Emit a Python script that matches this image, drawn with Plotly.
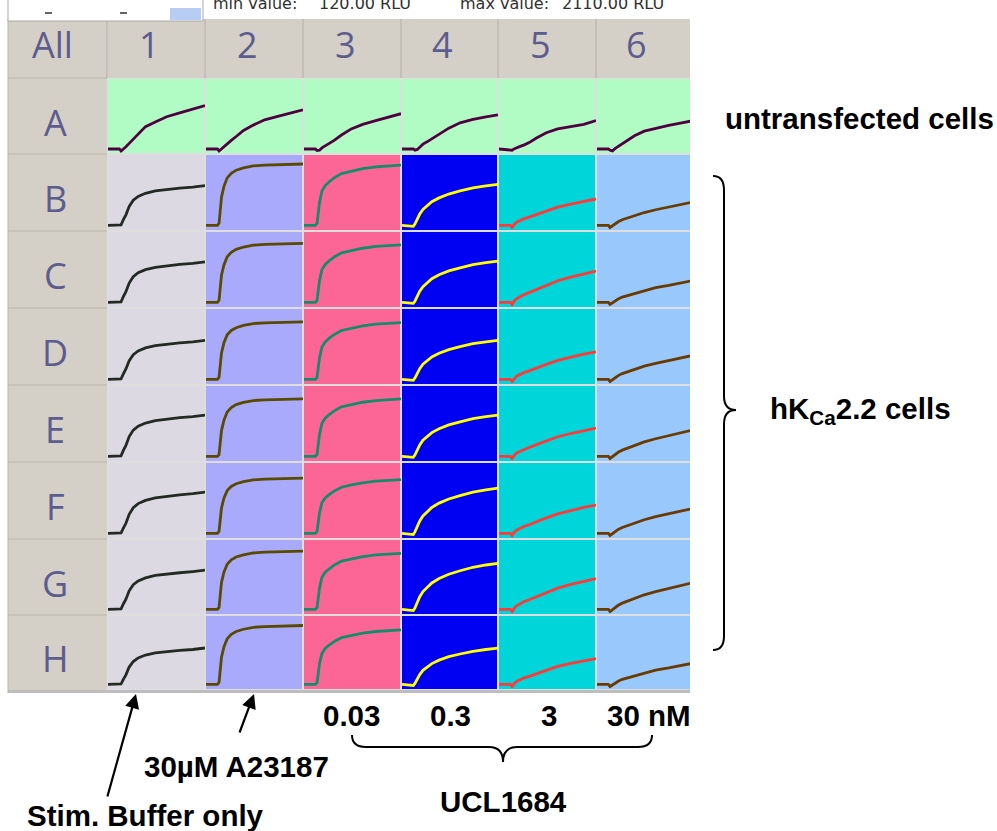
import plotly.graph_objects as go

W, H = 997, 831

# Sample times (s) shared by every well trace
TIME_S = [0, 7, 8, 9.5, 11, 13, 15.5, 18.5, 23, 29, 36, 44, 52, 59.5]

ROW_LABELS = ["A", "B", "C", "D", "E", "F", "G", "H"]
COL_LABELS = ["1", "2", "3", "4", "5", "6"]

# Luminescence (RLU) per well, one list per column 1..6
row_A = [
    [125, 125, 60, 120, 200, 310, 450, 610, 860, 1010, 1185, 1310, 1435, 1550],
    [125, 125, 60, 135, 210, 310, 410, 535, 735, 910, 1085, 1200, 1310, 1410],
    [125, 125, 75, 85, 160, 235, 310, 410, 585, 785, 935, 1060, 1185, 1285],
    [125, 125, 85, 110, 185, 285, 360, 460, 635, 810, 985, 1100, 1185, 1250],
    [125, 75, 85, 135, 175, 210, 260, 335, 485, 660, 785, 860, 935, 1060],
    [125, 125, 85, 60, 135, 210, 285, 410, 560, 710, 810, 900, 985, 1060],
]
row_B = [
    [145, 145, 160, 335, 485, 760, 960, 1085, 1185, 1260, 1310, 1350, 1385, 1435],
    [145, 145, 210, 1060, 1410, 1685, 1835, 1935, 2010, 2075, 2100, 2115, 2125, 2135],
    [145, 145, 210, 885, 1260, 1435, 1560, 1685, 1825, 1910, 1985, 2045, 2075, 2100],
    [145, 110, 185, 360, 510, 660, 785, 910, 1035, 1160, 1260, 1360, 1425, 1475],
    [145, 145, 75, 185, 250, 300, 360, 410, 500, 610, 735, 835, 925, 1000],
    [145, 145, 75, 135, 200, 260, 325, 375, 460, 560, 650, 735, 825, 910],
]
row_C = [
    [145, 145, 160, 340, 490, 770, 975, 1105, 1205, 1280, 1335, 1375, 1410, 1460],
    [145, 145, 210, 1025, 1360, 1625, 1770, 1865, 1940, 2000, 2025, 2040, 2050, 2060],
    [145, 145, 205, 850, 1210, 1375, 1495, 1615, 1750, 1830, 1900, 1960, 1990, 2010],
    [145, 110, 180, 350, 505, 655, 785, 910, 1040, 1165, 1265, 1365, 1430, 1485],
    [145, 145, 75, 195, 270, 330, 400, 460, 565, 700, 845, 965, 1075, 1160],
    [145, 145, 75, 135, 195, 250, 315, 360, 440, 535, 620, 695, 780, 860],
]
row_D = [
    [145, 145, 160, 330, 480, 750, 945, 1065, 1165, 1240, 1285, 1325, 1360, 1410],
    [145, 145, 205, 1000, 1330, 1590, 1730, 1820, 1895, 1955, 1975, 1990, 2000, 2010],
    [145, 145, 205, 840, 1195, 1360, 1480, 1595, 1730, 1810, 1880, 1935, 1965, 1985],
    [145, 110, 185, 350, 490, 635, 755, 870, 990, 1110, 1205, 1300, 1360, 1410],
    [145, 145, 75, 185, 255, 305, 370, 420, 515, 630, 760, 865, 960, 1035],
    [145, 145, 75, 135, 200, 265, 330, 380, 470, 575, 665, 750, 845, 930],
]
row_E = [
    [145, 145, 160, 345, 500, 785, 995, 1125, 1225, 1305, 1355, 1400, 1435, 1485],
    [145, 145, 200, 980, 1320, 1585, 1730, 1825, 1895, 1955, 1980, 1995, 2005, 2010],
    [145, 145, 205, 855, 1215, 1380, 1500, 1620, 1750, 1830, 1900, 1955, 1985, 2010],
    [145, 110, 185, 365, 515, 665, 790, 915, 1040, 1165, 1265, 1365, 1430, 1480],
    [145, 145, 75, 190, 260, 310, 375, 430, 525, 645, 780, 885, 980, 1060],
    [145, 145, 75, 135, 205, 275, 345, 405, 500, 615, 715, 810, 915, 1010],
]
row_F = [
    [145, 145, 155, 320, 470, 760, 975, 1110, 1215, 1295, 1350, 1395, 1435, 1485],
    [145, 145, 205, 970, 1285, 1530, 1665, 1755, 1825, 1880, 1905, 1920, 1925, 1935],
    [145, 145, 205, 805, 1140, 1295, 1405, 1515, 1640, 1720, 1785, 1840, 1865, 1885],
    [145, 105, 190, 380, 545, 710, 850, 985, 1125, 1260, 1370, 1480, 1555, 1610],
    [145, 145, 75, 190, 255, 310, 375, 425, 525, 645, 775, 885, 985, 1060],
    [145, 145, 75, 135, 205, 270, 335, 390, 480, 585, 685, 775, 870, 960],
]
row_G = [
    [145, 145, 160, 330, 480, 755, 955, 1080, 1180, 1260, 1310, 1350, 1390, 1435],
    [145, 145, 210, 1030, 1365, 1630, 1775, 1870, 1940, 2000, 2025, 2040, 2050, 2060],
    [145, 145, 205, 845, 1200, 1365, 1480, 1600, 1730, 1810, 1880, 1935, 1960, 1985],
    [145, 105, 190, 390, 560, 730, 875, 1015, 1160, 1300, 1415, 1530, 1605, 1660],
    [145, 145, 75, 195, 270, 330, 400, 460, 565, 700, 845, 965, 1070, 1160],
    [145, 145, 75, 135, 210, 280, 350, 410, 510, 625, 730, 830, 935, 1030],
]
row_H = [
    [145, 145, 160, 325, 465, 725, 910, 1030, 1125, 1195, 1240, 1280, 1310, 1360],
    [145, 145, 210, 1050, 1395, 1665, 1815, 1910, 1985, 2050, 2075, 2090, 2100, 2110],
    [145, 145, 205, 835, 1180, 1345, 1460, 1575, 1705, 1785, 1855, 1910, 1940, 1965],
    [145, 110, 180, 340, 475, 615, 725, 840, 955, 1070, 1160, 1250, 1310, 1355],
    [145, 145, 75, 185, 250, 305, 365, 415, 505, 620, 745, 845, 935, 1010],
    [145, 145, 75, 135, 195, 250, 315, 360, 440, 535, 620, 695, 780, 860],
]
PLATE = [row_A, row_B, row_C, row_D, row_E, row_F, row_G, row_H]

RLU_RANGE = [-40, 2460]
MIN_RLU_TEXT = "120.00 RLU"
MAX_RLU_TEXT = "2110.00 RLU"

# ---- styling -------------------------------------------------------------
ROW_A_BG = "#b0fcc4"
ROW_A_LINE = "#500040"
COL_BG = ["#dcd9e3", "#aaaafc", "#fc6697", "#0000f2", "#00d6da", "#98c8fc"]
COL_LINE = ["#222a22", "#5a4a00", "#148c6a", "#ffff00", "#ff3838", "#6a3a00"]
FRAME_GREY = "#d4d0c8"
HEAD_LINE = "#b9b5ad"
SEP = "#dedede"
LABEL_COLOR = "#5c5c8e"

COL_EDGES = [8, 107, 205, 303, 401, 498, 596, 694]
ROW_EDGES = [21, 78, 154, 231, 308, 385, 462, 539, 615, 690]
VIEW_RIGHT = 690


def px(x):
    return x / W


def py(y):
    return 1 - y / H


def pt(x, y):
    return f"{px(x):.5f},{py(y):.5f}"


fig = go.Figure()
shapes = []
annotations = []


def rect(x0, y0, x1, y1, fill, line=None, lw=0, layer="below"):
    shapes.append(dict(type="rect", xref="paper", yref="paper",
                       x0=px(x0), x1=px(x1), y0=py(y1), y1=py(y0),
                       fillcolor=fill, layer=layer,
                       line=dict(color=line or fill, width=lw)))


def hline(x0, x1, y, color, width=1):
    shapes.append(dict(type="line", xref="paper", yref="paper",
                       x0=px(x0), x1=px(x1), y0=py(y), y1=py(y),
                       line=dict(color=color, width=width), layer="below"))


def vline(x, y0, y1, color, width=1):
    shapes.append(dict(type="line", xref="paper", yref="paper",
                       x0=px(x), x1=px(x), y0=py(y0), y1=py(y1),
                       line=dict(color=color, width=width), layer="below"))


# plate frame
rect(8, 19, VIEW_RIGHT, 693, FRAME_GREY)
rect(COL_EDGES[1], ROW_EDGES[1], VIEW_RIGHT, ROW_EDGES[-1], SEP)
hline(8, VIEW_RIGHT, 691.5, "#bdbdbd", 3)
vline(8, 19, 693, "#b5b5b5", 1)
for x in COL_EDGES[1:-1]:
    vline(x, 19, ROW_EDGES[1], HEAD_LINE, 1.2)
for y in ROW_EDGES[1:-1]:
    hline(8, COL_EDGES[1], y, HEAD_LINE, 1.2)

# selection box strip above header
rect(8, -3, 203, 21, "#ffffff", "#a8a8a8", 1)
rect(170, 8, 201, 20, "#b8cdf4")
hline(45, 52, 13, "#303030", 1.5)
hline(120, 127, 13, "#303030", 1.5)

# header + row labels
LABEL_FONT = dict(family="Open Sans, Noto Sans, sans-serif", size=36, color=LABEL_COLOR)
annotations.append(dict(text="All", x=px(52), y=py(45), xref="paper", yref="paper",
                        showarrow=False, font=LABEL_FONT, xanchor="center", yanchor="middle"))
for c, lab in enumerate(COL_LABELS):
    cx = (COL_EDGES[c + 1] + min(COL_EDGES[c + 2], VIEW_RIGHT)) / 2 - 7
    annotations.append(dict(text=lab, x=px(cx), y=py(45), xref="paper", yref="paper",
                            showarrow=False, font=LABEL_FONT, xanchor="center", yanchor="middle"))
for r, lab in enumerate(ROW_LABELS):
    cy = (ROW_EDGES[r + 1] + ROW_EDGES[r + 2]) / 2 + 6
    annotations.append(dict(text=lab, x=px(55), y=py(cy), xref="paper", yref="paper",
                            showarrow=False, font=LABEL_FONT, xanchor="center", yanchor="middle"))

# min / max readout along the top edge of the window
TOP_FONT = dict(family="DejaVu Sans, sans-serif", size=16, color="#303030")
for txt, x in [("min value:", 211), (MIN_RLU_TEXT, 317), ("max value:", 458), (MAX_RLU_TEXT, 560)]:
    annotations.append(dict(text=txt, x=px(x), y=py(3), xref="paper", yref="paper",
                            showarrow=False, font=TOP_FONT, xanchor="left", yanchor="middle"))

# wells
n = 0
for r, row in enumerate(PLATE):
    y0, y1 = ROW_EDGES[r + 1], ROW_EDGES[r + 2]
    for c, values in enumerate(row):
        n += 1
        x0, x1 = COL_EDGES[c + 1], COL_EDGES[c + 2]
        right = min(x1, VIEW_RIGHT)
        bg = ROW_A_BG if r == 0 else COL_BG[c]
        color = ROW_A_LINE if r == 0 else COL_LINE[c]
        rect(x0 + 1, y0 + 1, right - (1 if x1 <= VIEW_RIGHT else 0), y1 - 1, bg)
        xr_max = TIME_S[-1] * (right - x0) / (x1 - x0) if x1 > VIEW_RIGHT else TIME_S[-1]
        xk = "xaxis" if n == 1 else f"xaxis{n}"
        yk = "yaxis" if n == 1 else f"yaxis{n}"
        xa = "x" if n == 1 else f"x{n}"
        ya = "y" if n == 1 else f"y{n}"
        fig.layout[xk] = dict(domain=[px(x0 + 1), px(right)], range=[0, xr_max],
                              visible=False, fixedrange=True, anchor=ya)
        fig.layout[yk] = dict(domain=[py(y1), py(y0)], range=RLU_RANGE,
                              visible=False, fixedrange=True, anchor=xa)
        fig.add_trace(go.Scatter(x=TIME_S, y=values, xaxis=xa, yaxis=ya, mode="lines",
                                 line=dict(color=color, width=2.8), hoverinfo="skip",
                                 showlegend=False))

# annotations outside the plate
BOLD = dict(family="Liberation Sans, Arial, sans-serif", size=29.5, color="#000000", weight="bold")


def label(text, x, y, anchor="center"):
    annotations.append(dict(text=text, x=px(x), y=py(y), xref="paper", yref="paper",
                            showarrow=False, font=BOLD, xanchor=anchor, yanchor="middle"))


label("untransfected cells", 723, 119, "left")
label("hK<sub>Ca</sub>2.2 cells", 768, 410, "left")
for txt, x in [("0.03", 351), ("0.3", 450), ("3", 549), ("30 nM", 649)]:
    label(txt, x, 715)
label("30µM A23187", 236, 766)
label("UCL1684", 503, 801)
label("Stim. Buffer only", 145, 815)

# arrows
for hx, hy, tx, ty in [(136, 694, 107, 798), (254, 694, 239, 734)]:
    annotations.append(dict(text="", x=px(hx), y=py(hy), xref="paper", yref="paper",
                            ax=tx - hx, ay=ty - hy, showarrow=True, arrowhead=2,
                            arrowsize=1.3, arrowwidth=2.2, arrowcolor="#000000", standoff=0))

# braces
hbrace = ("M " + pt(352, 735) + " Q " + pt(352, 747) + " " + pt(366, 747) +
          " L " + pt(489, 747) + " Q " + pt(503, 747) + " " + pt(503, 762) +
          " Q " + pt(503, 747) + " " + pt(517, 747) + " L " + pt(638, 747) +
          " Q " + pt(652, 747) + " " + pt(652, 735))
vbrace = ("M " + pt(713, 176) + " Q " + pt(724, 176) + " " + pt(724, 190) +
          " L " + pt(724, 396) + " Q " + pt(724, 410) + " " + pt(736, 410) +
          " Q " + pt(724, 410) + " " + pt(724, 424) + " L " + pt(724, 636) +
          " Q " + pt(724, 650) + " " + pt(713, 650))
for p in (hbrace, vbrace):
    shapes.append(dict(type="path", xref="paper", yref="paper", path=p,
                       line=dict(color="#000000", width=2)))

fig.update_layout(width=W, height=H, margin=dict(l=0, r=0, t=0, b=0),
                  paper_bgcolor="#ffffff", plot_bgcolor="rgba(0,0,0,0)",
                  shapes=shapes, annotations=annotations, showlegend=False)

fig.write_html("out.html", config={"displayModeBar": False})
